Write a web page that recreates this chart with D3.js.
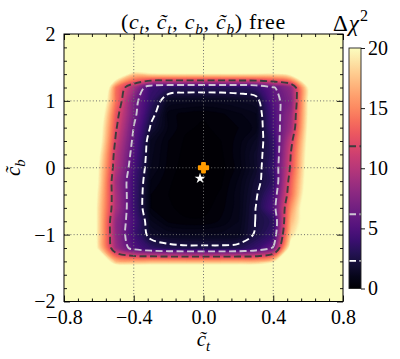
<!DOCTYPE html>
<html>
<head>
<meta charset="utf-8">
<script src="https://cdn.jsdelivr.net/npm/d3@7"></script>
<style>
  body { margin: 0; background: #fff; }
  text { font-family: "Liberation Serif", "DejaVu Serif", serif; }
</style>
</head>
<body>
<svg id="chart" width="400" height="359"></svg>
<script>
// grid of the scan: columns are c~_t, rows are c~_b (top row = +2)
var ctTilde = [-0.8, -0.7, -0.6, -0.5, -0.4, -0.3, -0.2, -0.1, 0.0, 0.1, 0.2, 0.3, 0.4, 0.5, 0.6, 0.7, 0.8];
var cbTilde = [2.0, 1.8, 1.6, 1.4, 1.2, 1.0, 0.8, 0.6, 0.4, 0.2, 0.0, -0.2, -0.4, -0.6, -0.8, -1.0, -1.2, -1.4, -1.6, -1.8, -2.0];

// delta chi^2 (values above 20 are saturated)
var dchi2 = [
  [30,30,30,30,30,30,30,30,30,30,30,30,30,30,30,30,30],
  [30,30,30,30,30,30,30,30,30,30,30,30,30,30,30,30,30],
  [30,30,30,30,30,30,30,30,30,30,30,30,30,30,30,30,30],
  [30,30,30,24,18,19.2,19.5,19.6,19.6,19.6,19.6,19.5,19.2,21,30,30,30],
  [30,30,28.7,14.2,9.45,4.0,3.2,3.0,3.0,3.0,3.1,3.6,5.95,8.24,20.2,30,30],
  [30,30,24.9,14,7.1,3.5,1.3,1.15,1.1,1.15,1.3,1.54,5.35,7.43,20.2,30,30],
  [30,30,23.1,12.7,6.8,2.8,0.6,0.4,0.3,0.45,0.7,0.98,4.75,8.33,20.2,30,30],
  [30,30,22,12,6.1,2.0,0.7,0.3,0.2,0.35,0.5,0.83,4.5,8.9,20.6,30,30],
  [30,30,21.6,11.1,5.6,1.2,0.5,0.2,0.1,0.25,0.6,1.33,3.6,10.8,21.0,30,30],
  [30,30,20.5,10.3,5.15,1.08,0.45,0.15,0.05,0.2,0.65,1.63,3.4,11.83,21.4,30,30],
  [30,30,19.7,9.9,4.6,1.0,0.4,0.1,0.0,0.15,0.6,1.6,3.7,12.2,21.7,30,30],
  [30,30,19.5,9.0,4.2,0.73,0.3,0.08,0.05,0.2,0.8,1.9,3.3,13.2,21.9,30,30],
  [30,30,18.9,9.3,4.1,0.5,0.25,0.1,0.08,0.3,0.9,2.1,4.26,13.8,22.6,30,30],
  [30,30,18.5,9.3,4.1,0.5,0.3,0.15,0.15,0.4,0.9,2.32,4.77,15.5,23.4,30,30],
  [30,30,18.5,8.1,4.6,1.05,0.45,0.3,0.3,0.55,1.0,2.35,3.2,17.0,22.4,30,30],
  [30,30,18.5,8.1,4.3,1.6,1.2,1.1,1.1,1.1,1.2,2.5,3.8,18.5,23.5,30,30],
  [30,30,18.9,8.8,5.06,3.5,2.8,2.6,2.6,2.6,2.8,3.8,6.44,21.8,30,30,30],
  [30,30,25,17,16.5,16.9,16.9,16.9,16.9,16.9,16.9,16.9,19,25,30,30,30],
  [30,30,30,30,30,30,30,30,30,30,30,30,30,30,30,30,30],
  [30,30,30,30,30,30,30,30,30,30,30,30,30,30,30,30,30],
  [30,30,30,30,30,30,30,30,30,30,30,30,30,30,30,30,30]
];

var clLevels = [2.30, 6.18, 11.83];
var clColors = ["#ffffff", "#cdc6d3", "#3c3c3c"];
var smPoint = [0.0, 0.0];
var bestFit = [-0.02, -0.16];

var xTicks = [-0.8, -0.4, 0.0, 0.4, 0.8];
var yTicks = [-2, -1, 0, 1, 2];
var cbarTicks = [0, 5, 10, 15, 20];

var svg = d3.select("#chart");
var plot = {l: 64, r: 343, t: 34, b: 301.5};

var x = d3.scaleLinear().domain([-0.8, 0.8]).range([plot.l, plot.r]);
var y = d3.scaleLinear().domain([-2, 2]).range([plot.b, plot.t]);
var color = d3.scaleSequential(d3.interpolateMagma).domain([0, 20]).clamp(true);

// flatten (negated so that each contour is the region "dchi2 <= level")
var nx = ctTilde.length, ny = cbTilde.length;
var dct = ctTilde[1] - ctTilde[0], dcb = cbTilde[1] - cbTilde[0];
var flat = [];
dchi2.forEach(function (row) { row.forEach(function (v) { flat.push(-v); }); });

function gridX(g) { return x(ctTilde[0] + (g - 0.5) * dct); }
function gridY(g) { return y(cbTilde[0] + (g - 0.5) * dcb); }

var ringLine = d3.line()
    .x(function (p) { return gridX(p[0]); })
    .y(function (p) { return gridY(p[1]); })
    .curve(d3.curveCatmullRomClosed.alpha(0.5));

function shapePath(mp) {
  return mp.coordinates.map(function (poly) {
    return poly.map(function (r) { return ringLine(r.slice(0, -1)); }).join("");
  }).join("");
}

svg.append("defs").append("clipPath").attr("id", "plotClip")
  .append("rect").attr("x", plot.l).attr("y", plot.t)
  .attr("width", plot.r - plot.l).attr("height", plot.b - plot.t);

var heat = svg.append("g").attr("clip-path", "url(#plotClip)");
heat.append("rect")
  .attr("x", plot.l).attr("y", plot.t)
  .attr("width", plot.r - plot.l).attr("height", plot.b - plot.t)
  .attr("fill", color(20));

var step = 0.25;
var bandTops = d3.range(20, 0, -step);
var bands = d3.contours().size([nx, ny]).thresholds(bandTops.map(function (v) { return -v; }))(flat);
bands.sort(function (a, b) { return a.value - b.value; });

heat.selectAll("path.band")
  .data(bands)
  .enter().append("path")
    .attr("class", "band")
    .attr("d", shapePath)
    .attr("fill-rule", "evenodd")
    .attr("fill", function (d) { return color(-d.value - step / 2); })
    .attr("stroke", function (d) { return color(-d.value - step / 2); })
    .attr("stroke-width", 0.4);

// dotted grid
var grid = svg.append("g");
grid.selectAll("line.gx")
  .data(xTicks.slice(1, -1))
  .enter().append("line")
    .attr("x1", function (d) { return x(d); }).attr("x2", function (d) { return x(d); })
    .attr("y1", plot.t).attr("y2", plot.b);
grid.selectAll("line.gy")
  .data(yTicks.slice(1, -1))
  .enter().append("line")
    .attr("y1", function (d) { return y(d); }).attr("y2", function (d) { return y(d); })
    .attr("x1", plot.l).attr("x2", plot.r);
grid.selectAll("line")
  .attr("stroke", "#6e6e6e").attr("stroke-width", 1).attr("stroke-dasharray", "1,2.2");

// contour lines
var lines = d3.contours().size([nx, ny]).thresholds(clLevels.map(function (v) { return -v; }))(flat);
heat.selectAll("path.cl")
  .data(lines)
  .enter().append("path")
    .attr("class", "cl")
    .attr("d", shapePath)
    .attr("fill", "none")
    .attr("stroke", function (d) { return clColors[clLevels.indexOf(-d.value)]; })
    .attr("stroke-width", 1.9)
    .attr("stroke-dasharray", "7,3.5");

// markers
svg.append("path")
  .attr("d", d3.symbol(d3.symbolCross, 52)())
  .attr("transform", "translate(" + x(smPoint[0]) + "," + y(smPoint[1]) + ")")
  .attr("fill", "#ff9b00").attr("stroke", "#ff9b00")
  .attr("stroke-width", 1.6).attr("stroke-linejoin", "round");
svg.append("path")
  .attr("d", d3.symbol(d3.symbolStar, 36)())
  .attr("transform", "translate(" + x(bestFit[0]) + "," + y(bestFit[1]) + ")")
  .attr("fill", "#ffffff");

// axes, ticks inward on all sides
var xMinor = d3.range(-0.8, 0.8001, 0.08).filter(function (v) {
  return xTicks.every(function (t) { return Math.abs(t - v) > 1e-6; });
});
var yMinor = d3.range(-2, 2.0001, 0.2).filter(function (v) {
  return yTicks.every(function (t) { return Math.abs(t - v) > 1e-6; });
});

function styleAxis(g) {
  g.select(".domain").remove();
  g.selectAll(".tick line").attr("stroke", "#000").attr("stroke-width", 0.9);
  g.attr("font-family", "Liberation Serif, serif").attr("font-size", 20);
  g.selectAll(".tick text").attr("fill", "#000");
}

svg.append("g").attr("transform", "translate(0," + plot.b + ")")
  .call(d3.axisBottom(x).tickValues(xTicks).tickFormat(d3.format(".1f")).tickSize(-6).tickPadding(8))
  .call(styleAxis);
svg.append("g").attr("transform", "translate(0," + plot.b + ")")
  .call(d3.axisBottom(x).tickValues(xMinor).tickFormat("").tickSize(-3)).call(styleAxis);
svg.append("g").attr("transform", "translate(0," + plot.t + ")")
  .call(d3.axisTop(x).tickValues(xTicks).tickFormat("").tickSize(-6)).call(styleAxis);
svg.append("g").attr("transform", "translate(0," + plot.t + ")")
  .call(d3.axisTop(x).tickValues(xMinor).tickFormat("").tickSize(-3)).call(styleAxis);

svg.append("g").attr("transform", "translate(" + plot.l + ",0)")
  .call(d3.axisLeft(y).tickValues(yTicks).tickFormat(d3.format("d")).tickSize(-6).tickPadding(8.5))
  .call(styleAxis);
svg.append("g").attr("transform", "translate(" + plot.l + ",0)")
  .call(d3.axisLeft(y).tickValues(yMinor).tickFormat("").tickSize(-3)).call(styleAxis);
svg.append("g").attr("transform", "translate(" + plot.r + ",0)")
  .call(d3.axisRight(y).tickValues(yTicks).tickFormat("").tickSize(-6)).call(styleAxis);
svg.append("g").attr("transform", "translate(" + plot.r + ",0)")
  .call(d3.axisRight(y).tickValues(yMinor).tickFormat("").tickSize(-3)).call(styleAxis);

svg.append("rect")
  .attr("x", plot.l).attr("y", plot.t)
  .attr("width", plot.r - plot.l).attr("height", plot.b - plot.t)
  .attr("fill", "none").attr("stroke", "#000").attr("stroke-width", 1);

// math-ish labels
function mathLabel(parent, parts, size) {
  var t = parent.append("text").attr("font-size", size).attr("fill", "#000");
  var shift = 0;
  parts.forEach(function (p) {
    var s = t.append("tspan").text(p[0]);
    var target = p[1] === "sub" ? size * 0.25 : (p[1] === "sup" ? -size * 0.42 : 0);
    s.attr("dy", target - shift);
    shift = target;
    if (p[1] === "i" || p[1] === "sub") s.attr("font-style", "italic");
    if (p[1] === "sub" || p[1] === "sup") s.attr("font-size", size * 0.7);
  });
  return t;
}

var tl = "c\u0303";
mathLabel(svg, [["(", "r"], ["c", "i"], ["t", "sub"], [", ", "r"], [tl, "i"], ["t", "sub"], [", ", "r"],
                ["c", "i"], ["b", "sub"], [", ", "r"], [tl, "i"], ["b", "sub"], [") free", "r"]], 22)
  .attr("x", (plot.l + plot.r) / 2).attr("y", 28.5).attr("text-anchor", "middle")
  .attr("letter-spacing", 0.7);

mathLabel(svg, [[tl, "i"], ["t", "sub"]], 21)
  .attr("x", (plot.l + plot.r) / 2).attr("y", 346).attr("text-anchor", "middle");

mathLabel(svg, [[tl, "i"], ["b", "sub"]], 21)
  .attr("text-anchor", "middle")
  .attr("transform", "translate(20," + ((plot.t + plot.b) / 2) + ") rotate(-90)");

mathLabel(svg, [["\u0394", "r"], ["\u03c7", "i"], ["2", "sup"]], 23)
  .attr("x", 333).attr("y", 31).attr("letter-spacing", 1);

// colour bar
var cbar = {x: 349, w: 12, t: 48, b: 288.5};
var cy = d3.scaleLinear().domain([0, 20]).range([cbar.b, cbar.t]);
var grad = svg.select("defs").append("linearGradient")
  .attr("id", "magmaGrad").attr("x1", 0).attr("y1", 1).attr("x2", 0).attr("y2", 0);
grad.selectAll("stop")
  .data(d3.range(0, 1.0001, 0.05))
  .enter().append("stop")
    .attr("offset", function (d) { return d; })
    .attr("stop-color", function (d) { return color(d * 20); });

svg.append("rect")
  .attr("x", cbar.x).attr("y", cbar.t).attr("width", cbar.w).attr("height", cbar.b - cbar.t)
  .attr("fill", "url(#magmaGrad)");

svg.selectAll("line.cbl")
  .data(clLevels)
  .enter().append("line")
    .attr("class", "cbl")
    .attr("x1", cbar.x).attr("x2", cbar.x + cbar.w)
    .attr("y1", function (d) { return cy(d); }).attr("y2", function (d) { return cy(d); })
    .attr("stroke", function (d, i) { return clColors[i]; })
    .attr("stroke-width", 1.9)
    .attr("stroke-dasharray", "7,3.5");

svg.append("rect")
  .attr("x", cbar.x).attr("y", cbar.t).attr("width", cbar.w).attr("height", cbar.b - cbar.t)
  .attr("fill", "none").attr("stroke", "#222").attr("stroke-width", 0.9);

svg.append("g").attr("transform", "translate(" + (cbar.x + cbar.w) + ",0)")
  .call(d3.axisRight(cy).tickValues(cbarTicks).tickFormat(d3.format("d")).tickSize(4).tickPadding(3))
  .call(styleAxis);
</script>
</body>
</html>
